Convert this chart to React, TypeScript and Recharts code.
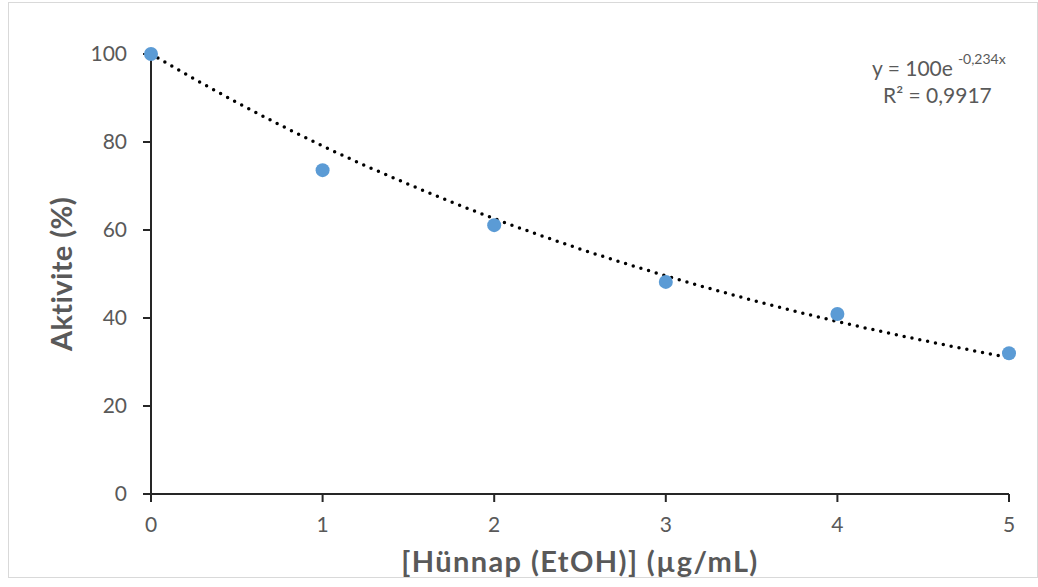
import React from 'react';
import { ComposedChart, Scatter, Line, XAxis, YAxis } from 'recharts';

// measured activity (%) per concentration
const concentrations = [0, 1, 2, 3, 4, 5];
const activity = [100, 73.6, 61.1, 48.2, 40.9, 32.0];

// exponential trendline, every 0.5 µg/mL
const trendX = [0, 0.5, 1, 1.5, 2, 2.5, 3, 3.5, 4, 4.5, 5];
const trendY = [100, 89.0, 79.1, 70.4, 62.6, 55.7, 49.6, 44.1, 39.2, 34.9, 31.0];

const xTicks = [0, 1, 2, 3, 4, 5];
const yTicks = [0, 20, 40, 60, 80, 100];

const points = concentrations.map((x, i) => ({ x, y: activity[i] }));
const trend = trendX.map((x, i) => ({ x, y: trendY[i] }));

const FONT = 'Lato, "Open Sans", sans-serif';
const TEXT = '#595959';
const AXIS = '#262626';

const Dot = (props: any) => {
  const { cx, cy } = props;
  if (cx == null || cy == null) return null;
  return <circle cx={cx} cy={cy} r={7} fill="#5B9BD5" />;
};

export default function App() {
  const tick = { fontSize: 21, fill: TEXT, fontFamily: FONT };
  const title = { fontSize: 29, fontWeight: 700, fill: TEXT, fontFamily: FONT };

  return (
    <div style={{ position: 'absolute', left: 0, top: 0, width: 1038, height: 587, background: '#fff' }}>
      <div
        style={{
          position: 'absolute',
          left: 8,
          top: 2,
          width: 1030,
          height: 576,
          boxSizing: 'border-box',
          border: '1px solid #d9d9d9',
          background: '#fff',
        }}
      >
        <ComposedChart width={1028} height={574} margin={{ top: 51, right: 28, bottom: 0, left: 0 }}>
          <XAxis
            type="number"
            dataKey="x"
            domain={[0, 5]}
            ticks={xTicks}
            interval={0}
            height={83}
            tickSize={8}
            tickMargin={15}
            tick={tick}
            stroke={AXIS}
            strokeWidth={2}
            tickLine={{ stroke: AXIS, strokeWidth: 2 }}
            label={{
              value: '[Hünnap (EtOH)] (µg/mL)',
              position: 'insideBottom',
              offset: 5,
              style: { ...title, letterSpacing: 1.4 },
            }}
          />
          <YAxis
            type="number"
            dataKey="y"
            domain={[0, 100]}
            ticks={yTicks}
            interval={0}
            width={142}
            tickSize={8}
            tickMargin={16}
            tick={tick}
            stroke={AXIS}
            strokeWidth={2}
            tickLine={{ stroke: AXIS, strokeWidth: 2 }}
            label={{
              value: 'Aktivite (%)',
              angle: -90,
              position: 'insideLeft',
              offset: 53,
              style: { ...title, textAnchor: 'middle', letterSpacing: 0.4 },
            }}
          />
          <Scatter data={points} dataKey="y" shape={<Dot />} isAnimationActive={false} />
          <Line
            data={trend}
            dataKey="y"
            type="monotone"
            stroke="#000"
            strokeWidth={3.5}
            strokeDasharray="0 8"
            strokeLinecap="round"
            dot={false}
            activeDot={false}
            isAnimationActive={false}
          />
        </ComposedChart>
      </div>
      <svg
        width={1038}
        height={587}
        style={{ position: 'absolute', left: 0, top: 0, pointerEvents: 'none' }}
      >
        <text x={872} y={76} fontSize={21} fill={TEXT} fontFamily={FONT}>
          y = 100e
          <tspan dx={5} dy={-12} fontSize={14}>-0,234x</tspan>
        </text>
        <text x={883} y={103} fontSize={21} fill={TEXT} fontFamily={FONT}>
          R² = 0,9917
        </text>
      </svg>
    </div>
  );
}
